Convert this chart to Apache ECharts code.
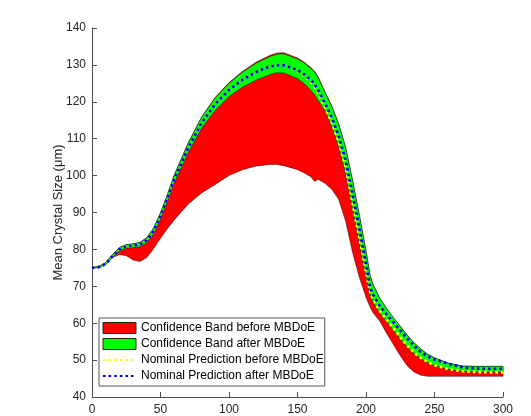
<!DOCTYPE html>
<html>
<head>
<meta charset="utf-8">
<script src="https://cdn.jsdelivr.net/npm/echarts@6/dist/echarts.min.js"></script>
<style>html,body{margin:0;padding:0;background:#fff;}#c{width:531px;height:416px;}</style>
</head>
<body>
<div id="c"></div>
<script>
// x positions (time) shared by all curves
var xs = [0,5,10,15,20,25,30,35,40,45,50,55,60,70,80,90,100,110,120,130,135,140,150,155,160,162,163,165,170,175,180,185,190,195,200,203,205,210,215,220,225,230,235,240,245,250,260,270,280,290,300];
// Nominal prediction after MBDoE (blue)
var nomAfter = [75,75.2,76.1,78.2,80.1,80.8,81.0,81.3,82.5,85.0,89.0,93.8,99.0,107.3,114.3,119.4,123.2,126.0,128.1,129.6,129.9,129.9,128.6,127.4,125.8,125.0,124.6,123.2,119.6,115.8,110.8,104.3,95.3,86.0,76.0,69.8,67.8,64.7,62.4,60.3,58.1,55.9,53.9,52.2,51.0,50.2,49.0,48.1,47.7,47.6,47.6];
// Nominal prediction before MBDoE (yellow)
var nomBefore = [75,75.2,76.1,78.2,80.1,80.8,81.0,81.3,82.5,85.0,89.0,93.8,99.0,107.3,114.3,119.4,123.2,126.0,128.1,129.6,129.9,129.9,128.4,127.1,125.3,124.4,124.0,122.5,118.6,114.5,109.3,102.5,93.0,83.5,74.0,68.5,66.6,63.4,61.0,58.7,56.2,54.0,52.1,50.6,49.5,48.6,47.6,47.0,46.8,46.7,46.7];
// Confidence band after MBDoE (green)
var greenUpper = [75.1,75.4,76.4,78.6,80.5,81.3,81.5,81.9,83.2,85.8,89.9,94.8,100.1,108.6,115.8,121.1,125.0,128.1,130.5,132.3,132.9,133.0,131.6,130.5,129.0,128.2,127.8,126.6,122.6,118.8,114.0,107.8,99.0,89.6,79.6,72.9,70.6,66.8,64.0,61.5,59.2,56.8,54.7,53.0,51.6,50.6,49.2,48.4,48.3,48.3,48.3];
var greenLower = [74.9,75.0,75.8,77.8,79.6,80.3,80.5,80.7,81.8,84.2,88.1,92.8,97.9,106.0,112.8,117.7,121.4,124.0,125.9,127.4,127.9,127.8,126.3,124.9,123.0,122.1,121.6,120.4,117.6,113.3,107.8,100.8,91.5,82.0,72.6,67.6,65.8,62.8,60.4,58.1,55.7,53.6,51.8,50.4,49.3,48.5,47.5,47.0,46.8,46.8,46.8];
// Confidence band before MBDoE (red)
var redUpper = [75.1,75.4,76.4,78.6,80.5,81.3,81.5,81.9,83.2,85.8,89.9,94.8,100.1,108.7,115.9,121.2,125.2,128.3,130.8,132.6,133.2,133.3,131.9,130.7,129.2,128.4,128.0,126.8,122.7,118.9,114.1,107.9,99.0,89.6,79.6,72.9,70.6,66.8,64.0,61.5,59.2,56.8,54.7,53.0,51.6,50.6,49.2,48.4,48.3,48.3,48.3];
var redLower = [75,75.3,76.3,77.8,78.6,78.3,77.1,76.7,77.8,80.2,83.0,85.6,88.0,92.2,95.3,97.6,100.0,101.6,102.6,103.0,103.0,102.7,101.6,100.7,99.6,98.6,98.5,99.0,97.9,96.3,93.6,87.8,79.5,72.6,67.0,64.3,62.9,60.6,57.3,54.2,51.2,48.5,46.8,45.9,45.6,45.6,45.6,45.6,45.6,45.6,45.6];
var xTicks = {min:0, max:300, interval:50};
var yTicks = {min:40, max:140, interval:10};
var names = ['Confidence Band before MBDoE','Confidence Band after MBDoE','Nominal Prediction before MBDoE','Nominal Prediction after MBDoE'];

function pairs(ys){ return xs.map(function(x,i){ return [x, ys[i]]; }); }
function bandSeries(name, up, lo, color){
  return {
    name: name, type: 'custom', silent: true,
    itemStyle: {color: color},
    data: [[0, 0]],
    renderItem: function(params, api){
      var pts = [];
      for (var i = 0; i < xs.length; i++) pts.push(api.coord([xs[i], up[i]]));
      for (var j = xs.length - 1; j >= 0; j--) pts.push(api.coord([xs[j], lo[j]]));
      return {type:'polygon', shape:{points: pts}, style:{fill: color, stroke: 'rgba(0,0,0,0.75)', lineWidth: 0.6}};
    }
  };
}
var axisColor = '#4d4d4d', textColor = '#262626';
var font = 'Liberation Sans, Arial, Helvetica, sans-serif';
var hideSym = {color: 'rgba(0,0,0,0)', borderColor: 'rgba(0,0,0,0)', borderWidth: 0, opacity: 0};
var chart = echarts.init(document.getElementById('c'), null, {renderer:'canvas'});
chart.setOption({
  animation: false,
  backgroundColor: '#fff',
  textStyle: {fontFamily: font},
  grid: {left: 92, right: 28, top: 28, bottom: 18, containLabel: false},
  xAxis: {
    type: 'value', min: xTicks.min, max: xTicks.max, interval: xTicks.interval,
    axisLine: {show: true, lineStyle: {color: axisColor, width: 1}},
    axisTick: {show: true, inside: true, length: 5, lineStyle: {color: axisColor}},
    axisLabel: {color: textColor, fontSize: 12, margin: 7, fontFamily: font},
    splitLine: {show: false}
  },
  yAxis: {
    type: 'value', min: yTicks.min, max: yTicks.max, interval: yTicks.interval,
    name: 'Mean Crystal Size (μm)', nameLocation: 'middle', nameGap: 27, nameRotate: 90,
    nameMoveOverlap: false,
    nameTextStyle: {color: textColor, fontSize: 13, fontFamily: font},
    axisLine: {show: true, lineStyle: {color: axisColor, width: 1}},
    axisTick: {show: true, inside: true, length: 5, lineStyle: {color: axisColor}},
    axisLabel: {color: textColor, fontSize: 12, margin: 6, fontFamily: font},
    splitLine: {show: false}
  },
  legend: {
    orient: 'vertical', left: 99, top: 318,
    padding: [3, 1, 3, 3], itemGap: 2, itemWidth: 33, itemHeight: 11,
    backgroundColor: '#fff', borderColor: '#555', borderWidth: 1, borderRadius: 0,
    textStyle: {color: '#000', fontSize: 12, lineHeight: 14, fontFamily: font},
    data: [
      {name: names[0], icon: 'rect', itemStyle: {color: '#ff0000', borderColor: '#222', borderWidth: 1}},
      {name: names[1], icon: 'rect', itemStyle: {color: '#00ff00', borderColor: '#222', borderWidth: 1}},
      {name: names[2], itemStyle: hideSym},
      {name: names[3], itemStyle: hideSym}
    ]
  },
  series: [
    bandSeries(names[0], redUpper, redLower, '#ff0000'),
    bandSeries(names[1], greenUpper, greenLower, '#00ff00'),
    {name: names[2], type: 'line', data: pairs(nomBefore), symbol: 'none', silent: true,
     itemStyle: {color: '#ffff00'},
     lineStyle: {color: '#ffff00', width: 2.8, type: [2.6, 3]}},
    {name: names[3], type: 'line', data: pairs(nomAfter), symbol: 'none', silent: true,
     itemStyle: {color: '#0000ff'},
     lineStyle: {color: '#0000ff', width: 2.8, type: [2.6, 3]}}
  ]
});
</script>
</body>
</html>
